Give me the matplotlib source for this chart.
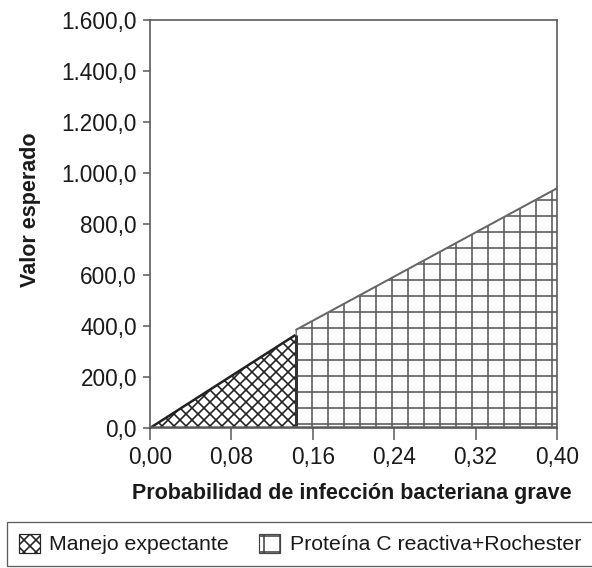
import matplotlib
matplotlib.use('Agg')
import matplotlib.pyplot as plt
from matplotlib.patches import Patch
from matplotlib.ticker import FuncFormatter

DPI = 288


def px(v):
    # pixeles -> puntos a este dpi
    return v * 72 / DPI


plt.rcParams['font.family'] = ['Liberation Sans', 'DejaVu Sans']
plt.rcParams['hatch.linewidth'] = px(1.6)

# datos
x_manejo = [0.0, 0.143]
y_manejo = [0.0, 365.0]
x_pcr = [0.143, 0.40]
y_pcr = [384.0, 940.0]
x_ticks = [0.00, 0.08, 0.16, 0.24, 0.32, 0.40]
y_ticks = [0, 200, 400, 600, 800, 1000, 1200, 1400, 1600]
series_labels = ['Manejo expectante', 'Proteína C reactiva+Rochester']

txt = '#1a1a1a'

fig = plt.figure(figsize=(592 / DPI, 568 / DPI), dpi=DPI)
ax = fig.add_axes([150 / 592, 140 / 568, 407 / 592, 408 / 568])

# areas
ax.fill_between(x_manejo, y_manejo, facecolor='white', edgecolor='#1e1e1e',
                hatch='xxxxxxxx', linewidth=0)
ax.fill_between(x_pcr, y_pcr, facecolor='white', edgecolor='#5a5a5a',
                hatch='+++', linewidth=0)
ax.plot(x_manejo, y_manejo, color='#222222', lw=px(2.5), solid_capstyle='butt')
ax.plot(x_pcr, y_pcr, color='#666666', lw=px(2), solid_capstyle='butt')
ax.vlines(x_manejo[-1], 0, y_manejo[-1], color='#333333', lw=px(3))
ax.axhline(0, color='#666666', lw=px(3.5))

ax.set_xlim(0, 0.40)
ax.set_ylim(0, 1600)
ax.set_xticks(x_ticks)
ax.set_yticks(y_ticks)
ax.xaxis.set_major_formatter(FuncFormatter(lambda v, p: f'{v:.2f}'.replace('.', ',')))
ax.yaxis.set_major_formatter(FuncFormatter(
    lambda v, p: f'{v:,.1f}'.replace(',', 'X').replace('.', ',').replace('X', '.')))

for s in ax.spines.values():
    s.set_color('#555555')
    s.set_linewidth(px(1.6))
ax.tick_params(axis='y', direction='out', length=px(7), width=px(1.5), color='#555555',
               pad=px(6), labelsize=px(22.5), labelcolor=txt)
ax.tick_params(axis='x', direction='out', length=px(12), width=px(1.5), color='#555555',
               pad=px(6), labelsize=px(22.5), labelcolor=txt)

fig.text(31 / 592, 1 - 210 / 568, 'Valor esperado', rotation=90, ha='center', va='center',
         fontweight='bold', fontsize=px(21.5), color=txt)
fig.text(352 / 592, 1 - 493 / 568, 'Probabilidad de infección bacteriana grave',
         ha='center', va='center', fontweight='bold', fontsize=px(21.5), color=txt)

handles = [
    Patch(facecolor='white', edgecolor='#222222', hatch='xxxxxxxx', linewidth=px(1.2)),
    Patch(facecolor='white', edgecolor='#444444', hatch='+++', linewidth=px(1.2)),
]
leg = fig.legend(handles, series_labels, loc='lower left',
                 bbox_to_anchor=(7 / 592, 2 / 568),
                 ncol=2, frameon=True, fancybox=False, edgecolor='#333333',
                 fontsize=px(21.2), handlelength=1.0, handleheight=1.0, handletextpad=0.45,
                 columnspacing=1.4, borderaxespad=0, borderpad=0.55)
leg.get_frame().set_linewidth(px(1.3))
for t in leg.get_texts():
    t.set_color(txt)

fig.savefig('out.png', dpi=DPI)
